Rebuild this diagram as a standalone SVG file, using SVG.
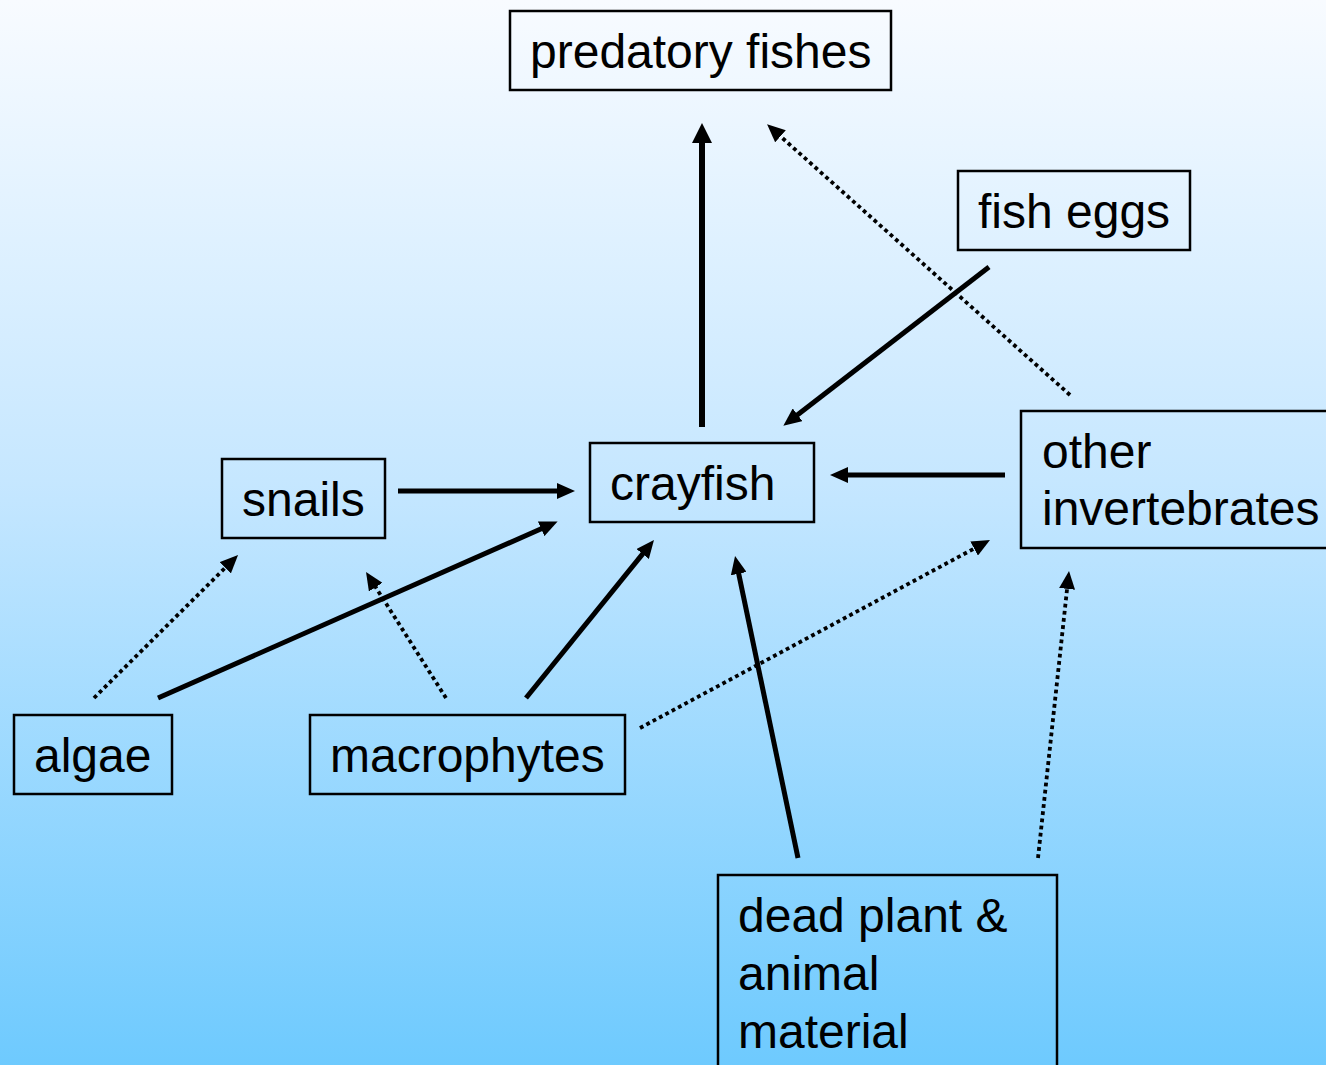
<svg xmlns="http://www.w3.org/2000/svg" width="1326" height="1065" viewBox="0 0 1326 1065">
<defs>
<linearGradient id="bg" x1="0" y1="0" x2="0" y2="1">
<stop offset="0" stop-color="#f8fbff"/>
<stop offset="0.45" stop-color="#c6e7ff"/>
<stop offset="1" stop-color="#6ecafe"/>
</linearGradient>
<marker id="big" markerUnits="userSpaceOnUse" markerWidth="20" markerHeight="20" refX="2" refY="10" orient="auto">
<path d="M0,0 L20,10 L0,20 z" fill="#000"/>
</marker>
<marker id="med" markerUnits="userSpaceOnUse" markerWidth="18" markerHeight="16" refX="2" refY="8" orient="auto">
<path d="M0,0 L18,8 L0,16 z" fill="#000"/>
</marker>
<style>
.box{fill:none;stroke:#000;stroke-width:2.5}
.lbl{font-family:"Liberation Sans",Arial,sans-serif;font-size:48px;fill:#000}
.solid{stroke:#000;stroke-width:5;fill:none;marker-end:url(#med)}
.dot{stroke:#000;stroke-width:3.8;stroke-dasharray:3.8 3.4;fill:none;marker-end:url(#med)}
</style>
</defs>
<rect width="1326" height="1065" fill="url(#bg)"/>
<g id="connectors">
<line x1="702" y1="427" x2="702" y2="141" stroke="#000" stroke-width="6" marker-end="url(#big)"/>
<line class="dot" x1="1070" y1="395" x2="779" y2="135"/>
<line class="solid" x1="989" y1="267" x2="796" y2="416"/>
<line class="solid" x1="1005" y1="475" x2="846" y2="475"/>
<line class="solid" x1="398" y1="491" x2="559" y2="491"/>
<line class="solid" x1="158" y1="698" x2="543" y2="528"/>
<line class="dot" x1="94" y1="698" x2="226.7" y2="566.3"/>
<line class="dot" x1="446" y1="698" x2="374.6" y2="585.5"/>
<line class="solid" x1="526" y1="698" x2="643.9" y2="552.4"/>
<line class="dot" x1="640" y1="728" x2="975.9" y2="547.6"/>
<line class="solid" x1="798" y1="858" x2="738.3" y2="571.7"/>
<line class="dot" x1="1038" y1="858" x2="1067.3" y2="586.9"/>
</g>
<g id="predatory-fishes"><rect class="box" x="510" y="11" width="381" height="79"/><text class="lbl" x="530" y="68">predatory fishes</text></g>
<g id="fish-eggs"><rect class="box" x="958" y="171" width="232" height="79"/><text class="lbl" x="978" y="228">fish eggs</text></g>
<g id="snails"><rect class="box" x="222" y="459" width="163" height="79"/><text class="lbl" x="242" y="516">snails</text></g>
<g id="crayfish"><rect class="box" x="590" y="443" width="224" height="79"/><text class="lbl" x="610" y="500">crayfish</text></g>
<g id="other-invertebrates"><rect class="box" x="1021" y="411" width="320" height="137"/><text class="lbl" x="1042" y="468">other</text><text class="lbl" x="1042" y="525">invertebrates</text></g>
<g id="algae"><rect class="box" x="14" y="715" width="158" height="79"/><text class="lbl" x="34" y="772">algae</text></g>
<g id="macrophytes"><rect class="box" x="310" y="715" width="315" height="79"/><text class="lbl" x="330" y="772">macrophytes</text></g>
<g id="dead-material"><rect class="box" x="718" y="875" width="339" height="210"/><text class="lbl" x="738" y="932">dead plant &amp;</text><text class="lbl" x="738" y="990">animal</text><text class="lbl" x="738" y="1048">material</text></g>
</svg>
